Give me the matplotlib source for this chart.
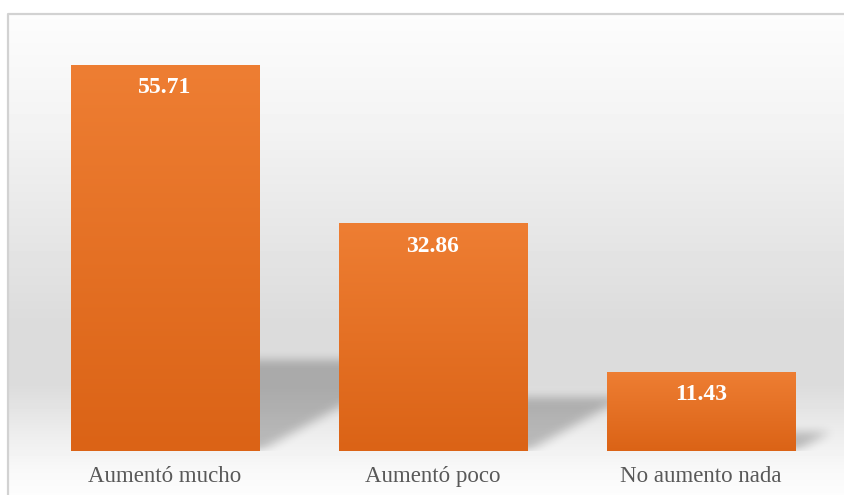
import numpy as np
import matplotlib
matplotlib.use('Agg')
import matplotlib.pyplot as plt
from matplotlib.colors import LinearSegmentedColormap

categories = ['Aumentó mucho', 'Aumentó poco', 'No aumento nada']
values = [55.71, 32.86, 11.43]
value_labels = ['55.71', '32.86', '11.43']

W, H = 845, 495
fig = plt.figure(figsize=(W / 100, H / 100), dpi=100)

# ---- background with gradient and frame ----
bg = fig.add_axes([0, 0, 1, 1])
bg.set_xlim(0, W)
bg.set_ylim(H, 0)
bg.axis('off')
ys = np.arange(H)
keys_y = [0, 13, 120, 250, 320, 385, 430, 470, 495]
keys_v = [1.0, 0.99, 0.955, 0.895, 0.862, 0.862, 0.925, 0.975, 0.99]
g = np.interp(ys, keys_y, keys_v)
img = np.repeat(g[:, None], W, axis=1)
img[:13, :] = 1.0
img[:, :8] = 1.0
bg.imshow(img, cmap='gray', vmin=0, vmax=1, extent=(0, W, H, 0),
          aspect='auto', interpolation='bilinear')
bg.plot([8.5, 8.5, W], [H, 13.5, 13.5], color='#d2d2d2', lw=1.6)

# ---- main axes ----
AX_L, AX_B, AX_W, AX_H = 31, 44, 804, 416
ax = fig.add_axes([AX_L / W, AX_B / H, AX_W / W, AX_H / H])
ax.set_xlim(-0.5, 2.5)
ax.set_ylim(0, 60)
ax.patch.set_alpha(0)
for s in ax.spines.values():
    s.set_visible(False)
ax.set_yticks([])

x = np.arange(len(categories))
bw = 0.705

# ---- soft shadows ----
sx = AX_W / 3.0
sy = AX_H / 60.0
cols = np.arange(AX_W) + 0.5
rows = np.arange(AX_H)
Yup = (AX_H - rows - 0.5)[:, None]
Xp = cols[None, :]
alpha = np.zeros((AX_H, AX_W))
for xi, v in zip(x, values):
    xr = (xi + bw / 2 + 0.5) * sx
    sh = 0.235 * v * sy
    m = (Xp >= xr - 30) & (Yup <= sh) & (Yup >= np.maximum(0, 0.55 * (Xp - xr)))
    alpha = np.maximum(alpha, m * 0.23)


def box_blur(a, r, axis):
    pad = [(0, 0), (0, 0)]
    pad[axis] = (r + 1, r)
    ap = np.pad(a, pad, mode='constant')
    c = np.cumsum(ap, axis=axis)
    if axis == 0:
        return (c[2 * r + 1:, :] - c[:-2 * r - 1, :]) / (2 * r + 1)
    return (c[:, 2 * r + 1:] - c[:, :-2 * r - 1]) / (2 * r + 1)


for _ in range(3):
    alpha = box_blur(alpha, 4, 0)
    alpha = box_blur(alpha, 5, 1)
shadow = np.zeros((AX_H, AX_W, 4))
shadow[..., 3] = alpha
ax.imshow(shadow, extent=(-0.5, 2.5, 0, 60), aspect='auto', zorder=1,
          interpolation='bilinear')

# ---- bars with vertical gradient ----
bars = ax.bar(x, values, width=bw, color='#E57228', zorder=3)
cmap = LinearSegmentedColormap.from_list('org', ['#DB6316', '#EE7E33'])
grad = np.linspace(1, 0, 256)[:, None]
for b, v in zip(bars, values):
    x0 = b.get_x()
    im = ax.imshow(grad, cmap=cmap, extent=(x0, x0 + bw, 0, v), aspect='auto',
                   zorder=4, interpolation='bicubic')
    im.set_clip_path(b)
ax.set_xlim(-0.5, 2.5)
ax.set_ylim(0, 60)

for xi, v, lbl in zip(x, values, value_labels):
    ax.annotate(lbl, (xi, v), xytext=(0, -16.5), textcoords='offset points',
                ha='center', va='center', color='white', fontweight='bold',
                fontsize=17, family='Liberation Serif', zorder=6)

ax.set_xticks(x)
ax.set_xticklabels(categories, fontsize=16.5, family='Liberation Serif',
                   color='#595959')
ax.tick_params(axis='x', length=0, pad=11)

fig.savefig('out.png', dpi=100)
